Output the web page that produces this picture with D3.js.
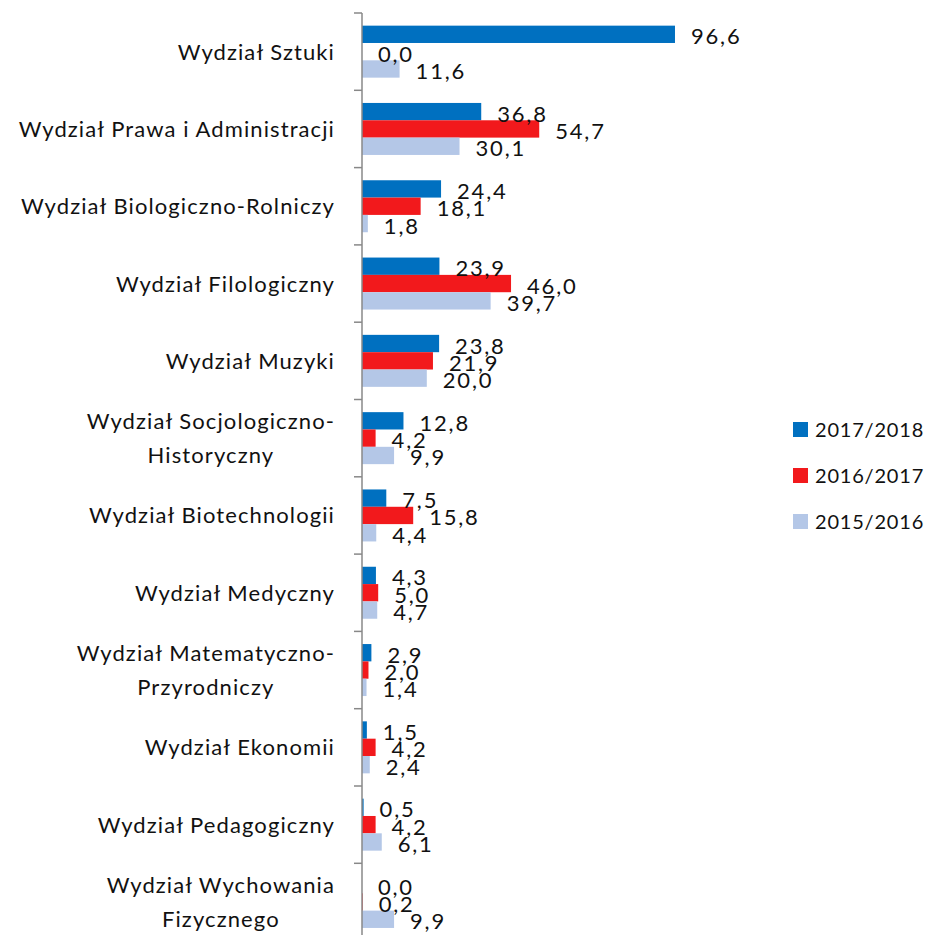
<!DOCTYPE html>
<html lang="pl">
<head>
<meta charset="UTF-8">
<title>Wydziały</title>
<script src="https://cdn.jsdelivr.net/npm/d3@7"></script>
<style>
  body { margin: 0; background: #fff; }
  text { font-family: Lato, "Open Sans", sans-serif; fill: #111; }
</style>
</head>
<body>
<svg id="chart" width="928" height="935"></svg>
<script>
// categories (two-line labels split with "|")
var categories = [
    "Wydział Sztuki",
    "Wydział Prawa i Administracji",
    "Wydział Biologiczno-Rolniczy",
    "Wydział Filologiczny",
    "Wydział Muzyki",
    "Wydział Socjologiczno-|Historyczny",
    "Wydział Biotechnologii",
    "Wydział Medyczny",
    "Wydział Matematyczno-|Przyrodniczy",
    "Wydział Ekonomii",
    "Wydział Pedagogiczny",
    "Wydział Wychowania|Fizycznego"
];
var seriesNames = ["2017/2018", "2016/2017", "2015/2016"];
var v2017 = [96.6, 36.8, 24.4, 23.9, 23.8, 12.8, 7.5, 4.3, 2.9, 1.5, 0.5, 0.0];
var v2016 = [0.0, 54.7, 18.1, 46.0, 21.9, 4.2, 15.8, 5.0, 2.0, 4.2, 4.2, 0.2];
var v2015 = [11.6, 30.1, 1.8, 39.7, 20.0, 9.9, 4.4, 4.7, 1.4, 2.4, 6.1, 9.9];
var colors = ["#0070c0", "#f2191c", "#b4c7e7"];

var svg = d3.select("#chart");
var values = [v2017, v2016, v2015];

var y = d3.scaleBand().domain(d3.range(categories.length)).range([13, 13 + 77.3 * 12]);
var ys = d3.scaleBand().domain(d3.range(3)).range([0, y.bandwidth()]).paddingOuter(0.73);
var x = d3.scaleLinear().domain([0, 100]).range([362, 686]);

// bars
values.forEach(function (vals, s) {
    svg.append("g").selectAll("rect")
        .data(vals)
        .enter().append("rect")
        .attr("x", x(0))
        .attr("y", function (d, i) { return y(i) + ys(s); })
        .attr("width", function (d) { return x(d) - x(0); })
        .attr("height", ys.bandwidth())
        .attr("fill", colors[s]);
});

// value labels
values.forEach(function (vals, s) {
    svg.append("g").selectAll("text")
        .data(vals)
        .enter().append("text")
        .attr("x", function (d) { return x(d) + 16; })
        .attr("y", function (d, i) { return y(i) + ys(s) + ys.bandwidth() / 2 + 10; })
        .style("font-size", "22px")
        .style("letter-spacing", "1.8px")
        .text(function (d) { return d.toFixed(1).replace(".", ","); });
});

// axis
var axis = svg.append("g");
axis.append("line")
    .attr("x1", x(0)).attr("x2", x(0))
    .attr("y1", y.range()[0]).attr("y2", y.range()[1])
    .attr("stroke", "#888").attr("stroke-width", 1.5);
axis.selectAll("line.tick")
    .data(d3.range(categories.length + 1))
    .enter().append("line")
    .attr("class", "tick")
    .attr("x1", x(0) - 8).attr("x2", x(0))
    .attr("y1", function (d) { return y.range()[0] + d * y.step(); })
    .attr("y2", function (d) { return y.range()[0] + d * y.step(); })
    .attr("stroke", "#888").attr("stroke-width", 1.5);

// category labels, multi-line ones centred under the first line
var right = 335;
svg.append("g").selectAll("text")
    .data(categories)
    .enter().append("text")
    .style("font-size", "22px")
    .style("letter-spacing", "1.1px")
    .each(function (d, i) {
        var lines = d.split("|");
        var cy = y(i) + y.bandwidth() / 2;
        var t = d3.select(this);
        if (lines.length === 1) {
            t.attr("text-anchor", "end").attr("x", right).attr("y", cy + 8).text(d);
            return;
        }
        var probe = t.append("tspan").text(lines[0]);
        var w = probe.node().getComputedTextLength();
        probe.remove();
        t.attr("text-anchor", "middle");
        lines.forEach(function (l, k) {
            t.append("tspan")
                .attr("x", right - w / 2)
                .attr("y", cy + 8 + (k - (lines.length - 1) / 2) * 34)
                .text(l);
        });
    });

// legend
var legend = svg.append("g").selectAll("g")
    .data(seriesNames)
    .enter().append("g")
    .attr("transform", function (d, i) { return "translate(793," + (422 + i * 46) + ")"; });
legend.append("rect")
    .attr("width", 15).attr("height", 15)
    .attr("fill", function (d, i) { return colors[i]; });
legend.append("text")
    .attr("x", 22).attr("y", 15)
    .style("font-size", "20px")
    .style("letter-spacing", "0.8px")
    .text(function (d) { return d; });
</script>
</body>
</html>
